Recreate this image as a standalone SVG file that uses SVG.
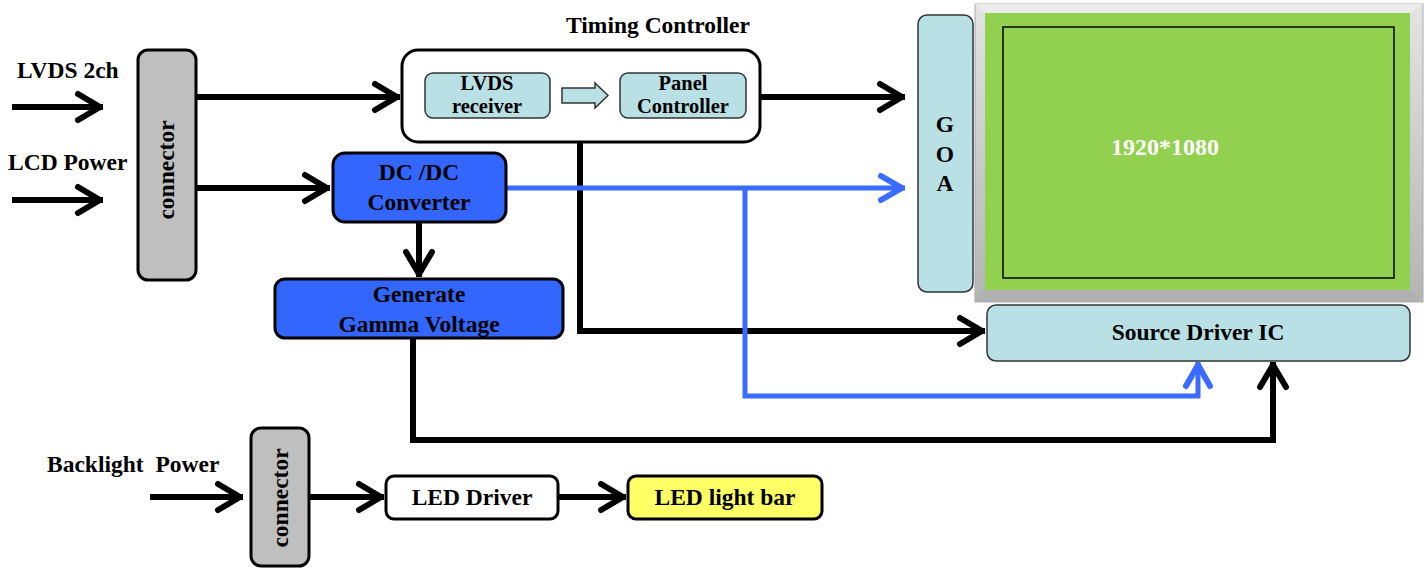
<svg xmlns="http://www.w3.org/2000/svg" width="1427" height="568" viewBox="0 0 1427 568">
<defs>
<style>
text{font-family:"Liberation Serif","Times New Roman",serif;font-weight:bold;fill:#000;}
.c{text-anchor:middle;}
.lbl{font-size:23.5px;}
.sm{font-size:20.5px;}
.blk{fill:none;stroke:#000;stroke-width:6;stroke-linejoin:miter;}
.blu{fill:none;stroke:#3a6bff;stroke-width:5;}
.box{stroke:#000;stroke-width:3;}
.lb{fill:#b9e0e4;stroke:#333;stroke-width:1.5;}
</style>
<marker id="ak" markerUnits="userSpaceOnUse" markerWidth="40" markerHeight="40" viewBox="-32 -20 40 40" refX="0" refY="0" orient="auto">
<path d="M-25,-13 L-3,0 L-25,13" fill="none" stroke="#000" stroke-width="6" stroke-linecap="round" stroke-linejoin="round"/>
</marker>
<marker id="ab" markerUnits="userSpaceOnUse" markerWidth="40" markerHeight="40" viewBox="-32 -20 40 40" refX="0" refY="0" orient="auto">
<path d="M-24,-12 L-3,0 L-24,12" fill="none" stroke="#3a6bff" stroke-width="6" stroke-linecap="round" stroke-linejoin="round"/>
</marker>
<linearGradient id="bez" x1="0" y1="0" x2="0" y2="1">
<stop offset="0" stop-color="#e4e4e4"/>
<stop offset="0.5" stop-color="#cccccc"/>
<stop offset="1" stop-color="#b4b4b4"/>
</linearGradient>
</defs>
<rect width="1427" height="568" fill="#fff"/>

<g id="labels">
<text class="lbl" x="17" y="78">LVDS 2ch</text>
<text class="lbl" x="8" y="170">LCD Power</text>
<text class="lbl" x="47" y="472" xml:space="preserve">Backlight  Power</text>
<text class="lbl c" x="658" y="33">Timing Controller</text>
</g>

<g id="connectors">
<path class="blk" d="M12,107 H103" marker-end="url(#ak)"/>
<path class="blk" d="M12,200 H103" marker-end="url(#ak)"/>
<path class="blk" d="M196,97 H400" marker-end="url(#ak)"/>
<path class="blk" d="M196,188 H330" marker-end="url(#ak)"/>
<path class="blk" d="M760,97 H905" marker-end="url(#ak)"/>
<path class="blk" d="M580,142 V331 H985" marker-end="url(#ak)"/>
<path class="blk" d="M419,222 V277" marker-end="url(#ak)"/>
<path class="blk" d="M413,338 V440 H1273 V362" marker-end="url(#ak)"/>
<path class="blu" d="M506,188 H905" marker-end="url(#ab)"/>
<path class="blu" d="M745,188 V396 H1198 V362" marker-end="url(#ab)"/>
<path class="blk" d="M150,497 H243" marker-end="url(#ak)"/>
<path class="blk" d="M310,497 H384" marker-end="url(#ak)"/>
<path class="blk" d="M558,497 H626" marker-end="url(#ak)"/>
</g>

<g id="connector1">
<rect class="box" x="138" y="50" width="58" height="230" rx="10" fill="#bfbfbf"/>
<text class="lbl c" transform="translate(174,170) rotate(-90)">connector</text>
</g>

<g id="timing-controller">
<rect x="402" y="50" width="358" height="92" rx="16" fill="#fff" stroke="#000" stroke-width="3"/>
</g>
<g id="lvds-receiver">
<rect class="lb" x="425" y="73" width="125" height="45" rx="8"/>
<text class="sm c" x="487" y="90">LVDS</text>
<text class="sm c" x="487" y="113">receiver</text>
</g>
<g id="inner-arrow">
<polygon points="562,88 595,88 595,83 608,95.5 595,108 595,103 562,103" fill="#b9e0e4" stroke="#333" stroke-width="1.5"/>
</g>
<g id="panel-controller">
<rect class="lb" x="620" y="73" width="126" height="45" rx="8"/>
<text class="sm c" x="683" y="90">Panel</text>
<text class="sm c" x="683" y="113">Controller</text>
</g>

<g id="dcdc">
<rect class="box" x="333" y="153" width="173" height="69" rx="12" fill="#3366ff"/>
<text class="lbl c" x="419" y="180">DC /DC</text>
<text class="lbl c" x="419" y="210">Converter</text>
</g>

<g id="gamma">
<rect class="box" x="275" y="279" width="288" height="59" rx="10" fill="#3366ff"/>
<text class="lbl c" x="419" y="302">Generate</text>
<text class="lbl c" x="419" y="332">Gamma Voltage</text>
</g>

<g id="goa">
<rect class="lb" x="918" y="15" width="55" height="277" rx="9"/>
<text class="lbl c" x="945" y="132">G</text>
<text class="lbl c" x="945" y="162">O</text>
<text class="lbl c" x="945" y="191">A</text>
</g>

<g id="panel">
<rect x="975" y="4" width="448" height="298" fill="url(#bez)" stroke="#aaa" stroke-width="1"/>
<polygon points="975,4 1423,4 1410,13 985,13" fill="#ececec"/>
<polygon points="975,302 1423,302 1410,290 985,290" fill="#b0b0b0"/>
<rect x="985" y="13" width="425" height="277" fill="#92d050"/>
<rect x="1003" y="27" width="391" height="251" fill="none" stroke="#000" stroke-width="1.5"/>
<text class="c" x="1165" y="155" font-size="24" style="fill:#fff">1920*1080</text>
</g>

<g id="source-driver">
<rect class="lb" x="987" y="305" width="423" height="56" rx="9"/>
<text class="lbl c" x="1198" y="340">Source Driver IC</text>
</g>

<g id="connector2">
<rect class="box" x="251" y="428" width="58" height="138" rx="10" fill="#bfbfbf"/>
<text class="lbl c" transform="translate(288,498) rotate(-90)">connector</text>
</g>

<g id="led-driver">
<rect class="box" x="386" y="476" width="172" height="43" rx="8" fill="#fff"/>
<text class="lbl c" x="472" y="505">LED Driver</text>
</g>

<g id="led-bar">
<rect class="box" x="628" y="476" width="194" height="43" rx="8" fill="#ffff66"/>
<text class="lbl c" x="725" y="505">LED light bar</text>
</g>
</svg>
